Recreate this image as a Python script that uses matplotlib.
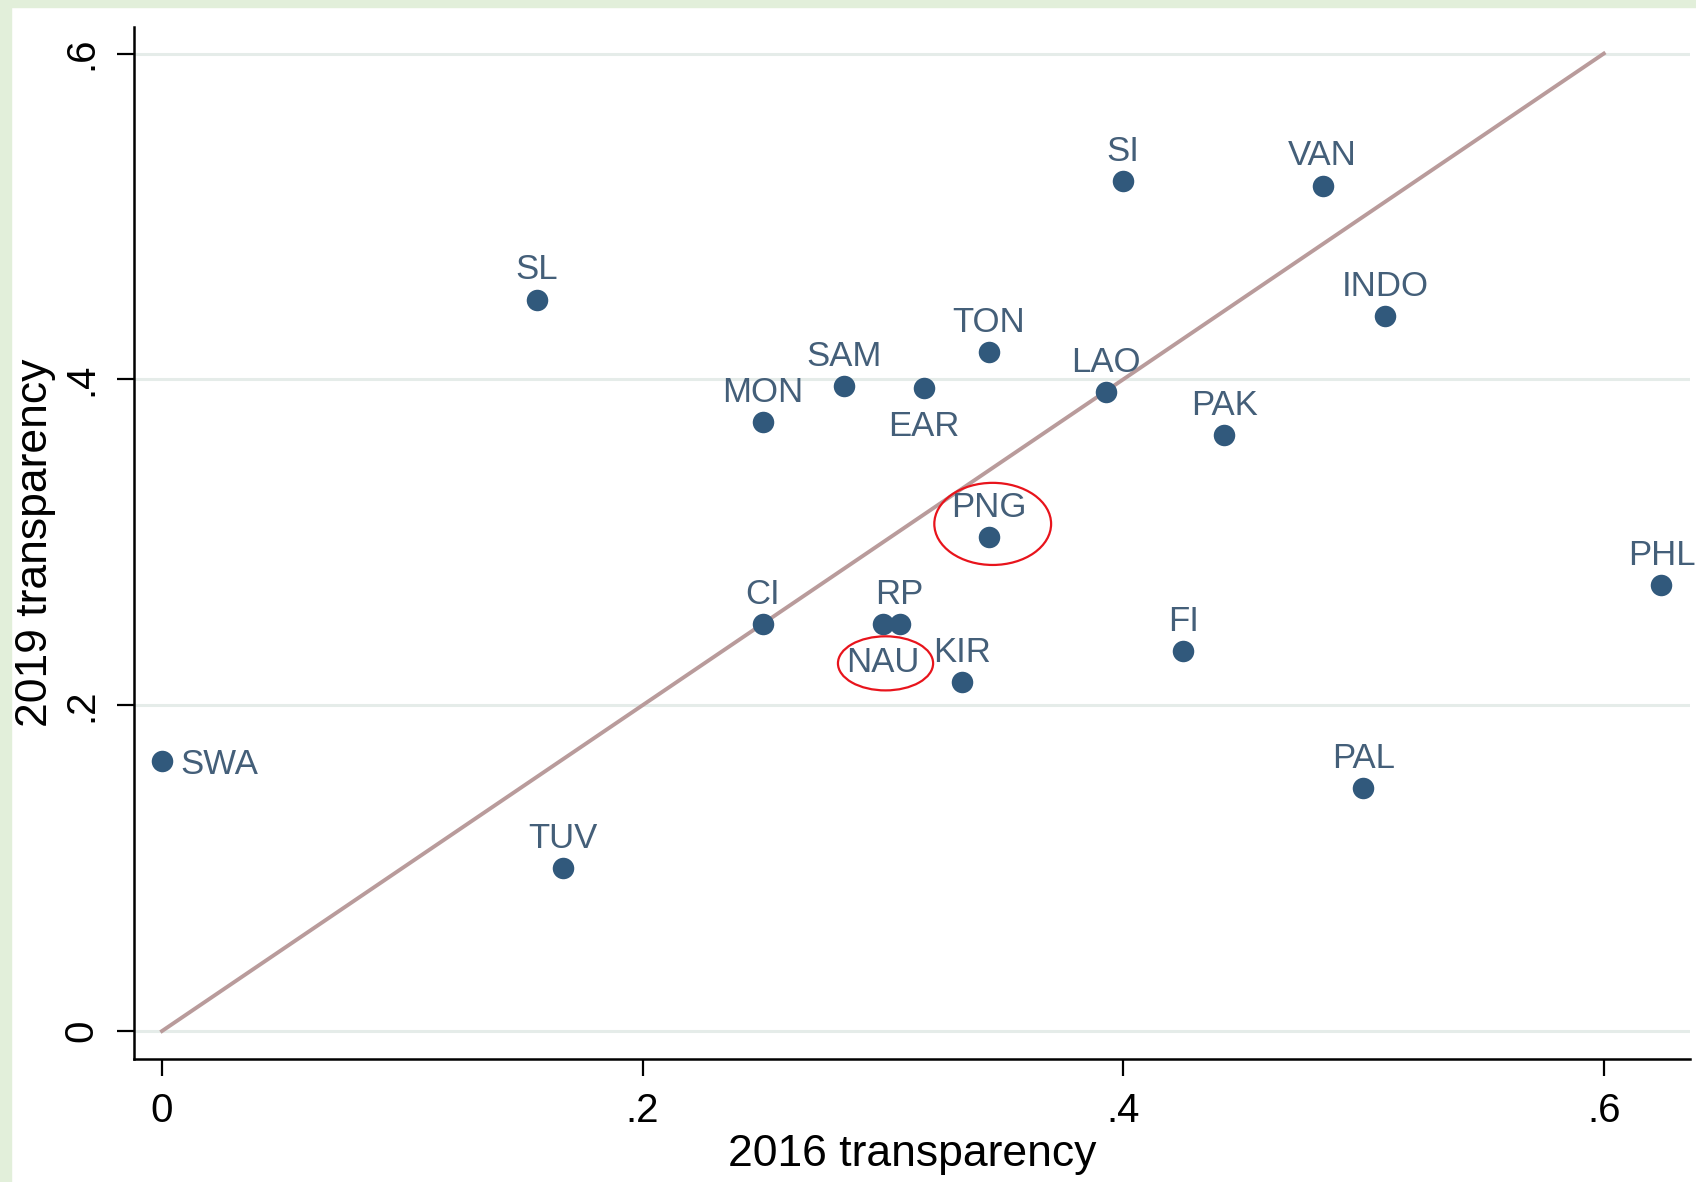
import matplotlib
matplotlib.use("Agg")
import matplotlib.pyplot as plt
from matplotlib.patches import Ellipse, Rectangle

# country codes and transparency scores
countries = ["SWA", "TUV", "SL", "MON", "SAM", "EAR", "TON", "SI", "VAN", "INDO",
             "LAO", "PAK", "PNG", "PHL", "CI", "NAU", "RP", "KIR", "FI", "PAL"]
t2016 = [0.0, 0.167, 0.156, 0.25, 0.284, 0.317, 0.344, 0.40, 0.483, 0.509,
         0.393, 0.442, 0.344, 0.624, 0.25, 0.30, 0.307, 0.333, 0.425, 0.50]
t2019 = [0.166, 0.10, 0.449, 0.374, 0.396, 0.395, 0.417, 0.522, 0.519, 0.439,
         0.392, 0.366, 0.303, 0.274, 0.25, 0.25, 0.25, 0.214, 0.233, 0.149]
# label clock position (12 = above, 3 = right, 6 = below)
label_pos = [3, 12, 12, 12, 12, 6, 12, 12, 12, 12,
             12, 12, 12, 12, 12, 6, 12, 12, 12, 12]

# 45 degree reference line
diag = [0, 0.6]

ticks = [0, 0.2, 0.4, 0.6]
tick_labels = ["0", ".2", ".4", ".6"]

# red highlight ellipses: centre x, centre y, width, height (data units)
highlight_x = [0.3457, 0.3011]
highlight_y = [0.3113, 0.2257]
highlight_w = [0.0486, 0.0396]
highlight_h = [0.0504, 0.0332]

plt.rcParams["font.family"] = ["Liberation Sans", "DejaVu Sans"]

marker_col = "#31597c"
label_col = "#445f79"

fig = plt.figure(figsize=(16.96, 11.82), dpi=100)
fig.patch.set_facecolor("white")
# light green frame on left and top edge of the screenshot
fig.patches.append(Rectangle((0, 0), 0.0065, 1, transform=fig.transFigure,
                             color="#e2efda", zorder=0))
fig.patches.append(Rectangle((0, 0.9941), 1, 0.0059, transform=fig.transFigure,
                             color="#e2efda", zorder=0))

ax = fig.add_axes([0.079, 0.104, 0.9175, 0.873])
ax.set_xlim(-0.01165, 0.6359)
ax.set_ylim(-0.0172, 0.6162)

for t in ticks:
    ax.axhline(t, color="#e5ece9", lw=2.2, zorder=1)

ax.plot(diag, diag, color="#b99b9b", lw=2.8, zorder=2)

ax.scatter(t2016, t2019, s=240, color=marker_col, zorder=3, linewidths=0)

for name, x, y, p in zip(countries, t2016, t2019, label_pos):
    if p == 12:
        ax.annotate(name, (x, y), xytext=(0, 14.5), textcoords="offset points",
                    ha="center", va="baseline", fontsize=25, color=label_col, zorder=4)
    elif p == 3:
        ax.annotate(name, (x, y), xytext=(13, 0), textcoords="offset points",
                    ha="left", va="center_baseline", fontsize=25, color=label_col, zorder=4)
    else:
        ax.annotate(name, (x, y), xytext=(0, -16), textcoords="offset points",
                    ha="center", va="top", fontsize=25, color=label_col, zorder=4)

for cx, cy, w, h in zip(highlight_x, highlight_y, highlight_w, highlight_h):
    ax.add_patch(Ellipse((cx, cy), w, h, fill=False, edgecolor="#e8141c",
                         lw=1.6, zorder=5))

ax.set_xticks(ticks)
ax.set_xticklabels(tick_labels)
ax.set_yticks(ticks)
ax.set_yticklabels(tick_labels, rotation=90, va="center")
ax.tick_params(axis="both", length=12, width=1.6, labelsize=29, color="black")
ax.tick_params(axis="x", pad=12)
ax.tick_params(axis="y", pad=12)

for side in ["top", "right"]:
    ax.spines[side].set_visible(False)
for side in ["left", "bottom"]:
    ax.spines[side].set_linewidth(1.8)

ax.set_xlabel("2016 transparency", fontsize=32, va="center")
ax.set_ylabel("2019 transparency", fontsize=32, va="center")
ax.xaxis.set_label_coords(0.5, -0.092)
ax.yaxis.set_label_coords(-0.0636, 0.5)

fig.savefig("out.png", dpi=100)
